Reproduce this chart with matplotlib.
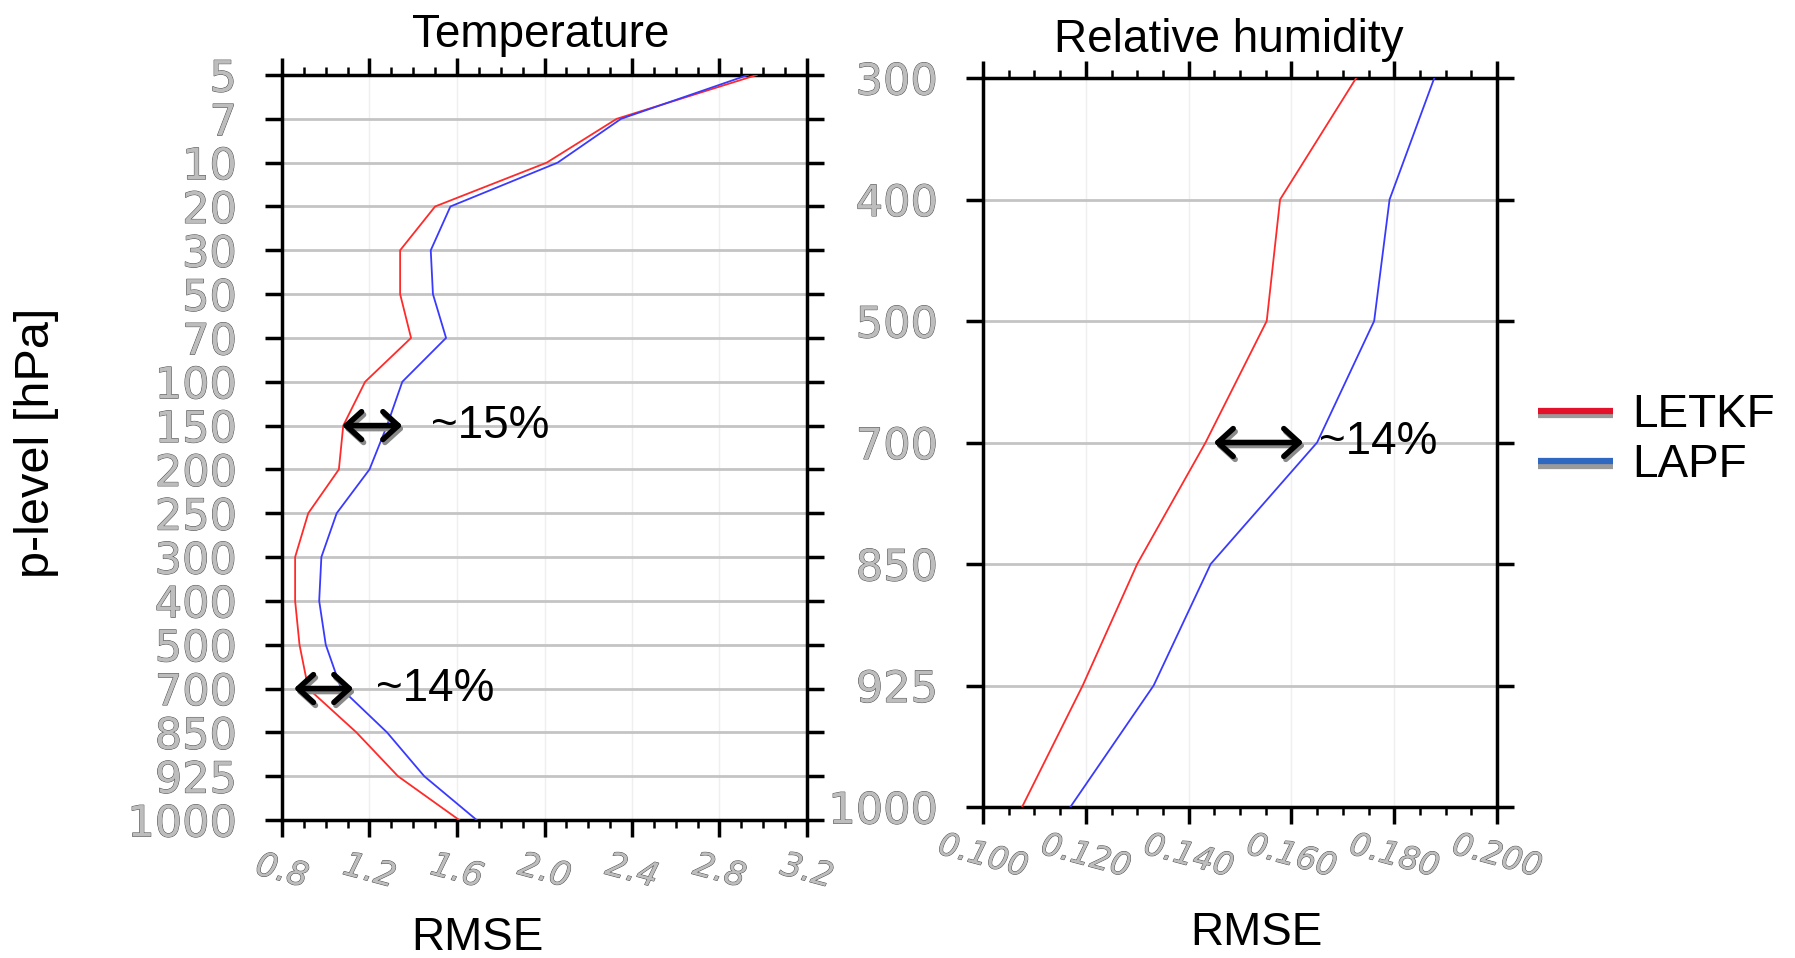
import matplotlib
matplotlib.use("Agg")
import matplotlib.pyplot as plt
import matplotlib.transforms as mtransforms
import matplotlib.patheffects as pe
from matplotlib.lines import Line2D
import numpy as np

# ---------------- data ----------------
t_levels = ["5", "7", "10", "20", "30", "50", "70", "100", "150", "200",
            "250", "300", "400", "500", "700", "850", "925", "1000"]
t_letkf = [2.97, 2.33, 2.01, 1.50, 1.34, 1.34, 1.39, 1.18, 1.08, 1.06,
           0.92, 0.86, 0.86, 0.88, 0.92, 1.14, 1.33, 1.61]
t_lapf = [2.93, 2.35, 2.06, 1.57, 1.48, 1.49, 1.55, 1.35, 1.28, 1.20,
          1.05, 0.98, 0.97, 1.00, 1.07, 1.28, 1.45, 1.69]

rh_levels = ["300", "400", "500", "700", "850", "925", "1000"]
rh_letkf = [0.1726, 0.1578, 0.1552, 0.1433, 0.1300, 0.1194, 0.1076]
rh_lapf = [0.1878, 0.1791, 0.1761, 0.1650, 0.1443, 0.1332, 0.1170]

t_xticks = [0.8, 1.2, 1.6, 2.0, 2.4, 2.8, 3.2]
t_xticklabels = ["0.8", "1.2", "1.6", "2.0", "2.4", "2.8", "3.2"]
rh_xticks = [0.100, 0.120, 0.140, 0.160, 0.180, 0.200]
rh_xticklabels = ["0.100", "0.120", "0.140", "0.160", "0.180", "0.200"]

series_names = ["LETKF", "LAPF"]
# --------------------------------------

W, H = 1795, 958
RED = "#ff2a2a"
BLUE = "#3a3aff"
LEG_RED = "#e4112a"
LEG_BLUE = "#2e68c0"
LBL = "#bdbdbd"
SANS = ["Liberation Sans", "DejaVu Sans"]
HOLLOW = [pe.withStroke(linewidth=0.7, foreground="#4c4c4c")]

fig = plt.figure(figsize=(W / 100, H / 100), dpi=100)
fig.patch.set_facecolor("white")


def px_axes(l, t, r, b):
    return fig.add_axes([l / W, 1 - b / H, (r - l) / W, (b - t) / H])


ax1 = px_axes(282, 75, 807, 820)
ax2 = px_axes(983, 78, 1497, 807)


def style_axis(ax, xticks, xlabels, xminor_step, xlim, nlev, ylabsize, xlabsize, xpad):
    ax.set_xlim(*xlim)
    ax.set_ylim(nlev - 1, 0)
    ax.set_xticks(xticks)
    ax.set_xticklabels(xlabels, rotation=-15, ha="center", va="top",
                       fontsize=xlabsize, color=LBL, family="DejaVu Sans",
                       style="oblique")
    for lab in ax.get_xticklabels():
        lab.set_path_effects(HOLLOW)
    ax.set_xticks(np.arange(xlim[0], xlim[1] + 1e-9, xminor_step), minor=True)
    ax.tick_params(axis="x", which="major", direction="out", length=12.5, width=2.5,
                   top=True, bottom=True, pad=xpad, color="black")
    ax.tick_params(axis="x", which="minor", direction="out", length=6, width=1.8,
                   top=True, bottom=True, color="black")
    ax.tick_params(axis="y", which="major", direction="out", length=12.5, width=2.5,
                   left=True, right=True, pad=20, color="black")
    for lab in ax.get_yticklabels():
        lab.set_fontsize(ylabsize)
        lab.set_color(LBL)
        lab.set_path_effects(HOLLOW)
    for sp in ax.spines.values():
        sp.set_linewidth(2.5)
        sp.set_color("black")
    ax.yaxis.grid(True, color="#c4c4c4", lw=2.0)
    ax.xaxis.grid(True, color="#efefef", lw=1.0)
    ax.set_axisbelow(True)


# Temperature panel
ax1.plot(t_letkf, t_levels, color=RED, lw=1.3, zorder=3)
ax1.plot(t_lapf, t_levels, color=BLUE, lw=1.3, zorder=3)
style_axis(ax1, t_xticks, t_xticklabels, 0.1, (0.8, 3.2), len(t_levels), 31, 24, 8)

# Relative humidity panel
ax2.plot(rh_letkf, rh_levels, color=RED, lw=1.3, zorder=3)
ax2.plot(rh_lapf, rh_levels, color=BLUE, lw=1.3, zorder=3)
style_axis(ax2, rh_xticks, rh_xticklabels, 0.005, (0.100, 0.200), len(rh_levels), 31, 23, 4)

# Titles and axis labels
fig.text(541 / W, 1 - 47 / H, "Temperature", ha="center", va="baseline",
         fontsize=33, family=SANS)
fig.text(1229 / W, 1 - 52 / H, "Relative humidity", ha="center", va="baseline",
         fontsize=33, family=SANS)
fig.text(37 / W, 1 - 443 / H, "p-level [hPa]", ha="center", va="center",
         rotation=90, fontsize=35, family=SANS)
fig.text(477 / W, 1 - 950 / H, "RMSE", ha="center", va="baseline",
         fontsize=33, family=SANS)
fig.text(1256 / W, 1 - 945 / H, "RMSE", ha="center", va="baseline",
         fontsize=33, family=SANS)


# Double arrows with shadow
def double_arrow(ax, x0, x1, ylev, text, tx):
    shadow = mtransforms.offset_copy(ax.transData, fig=fig, x=2, y=-3, units="dots")
    props = dict(arrowstyle="<->,head_length=0.55,head_width=0.5", lw=4,
                 shrinkA=0, shrinkB=0, mutation_scale=20)
    ax.annotate("", xy=(x1, ylev), xytext=(x0, ylev), xycoords=shadow,
                textcoords=shadow, arrowprops=dict(props, color="#8a8a8a"), zorder=5)
    ax.annotate("", xy=(x1, ylev), xytext=(x0, ylev),
                arrowprops=dict(props, color="black"), zorder=6)
    ax.text(tx, ylev, text, ha="left", va="center", fontsize=33, family=SANS,
            zorder=7)


double_arrow(ax1, 1.075, 1.35, t_levels.index("150"), "~15%", 1.479)
double_arrow(ax1, 0.855, 1.126, t_levels.index("700"), "~14%", 1.231)
double_arrow(ax2, 0.1449, 0.1623, rh_levels.index("700"), "~14%", 0.1654)

# Legend
handles = []
for c in (LEG_RED, LEG_BLUE):
    handles.append(Line2D([], [], color=c, lw=4.5, solid_capstyle="butt",
                          path_effects=[pe.SimpleLineShadow(offset=(0, -3),
                                                            shadow_color="#9a9a9a",
                                                            alpha=1.0),
                                        pe.Normal()]))
leg = fig.legend(handles, series_names, loc="center left",
                 bbox_to_anchor=(1538 / W, 1 - 440 / H), frameon=False,
                 prop=dict(family=SANS, size=33), handlelength=1.64,
                 handletextpad=0.42, labelspacing=0.15, borderpad=0,
                 borderaxespad=0)

fig.savefig("out.png", dpi=100, facecolor="white")
